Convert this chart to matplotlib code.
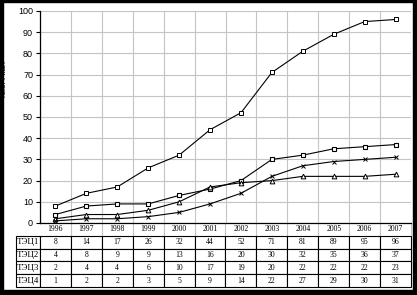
import matplotlib
matplotlib.use('Agg')
import matplotlib.pyplot as plt
from matplotlib.patches import Rectangle
import numpy as np

# данные по годам
years = ['1996', '1997', '1998', '1999', '2000', '2001', '2002', '2003', '2004', '2005', '2006', '2007']
names = ['ТЭЦ1', 'ТЭЦ2', 'ТЭЦ3', 'ТЭЦ4']
t1 = [8, 14, 17, 26, 32, 44, 52, 71, 81, 89, 95, 96]
t2 = [4, 8, 9, 9, 13, 16, 20, 30, 32, 35, 36, 37]
t3 = [2, 4, 4, 6, 10, 17, 19, 20, 22, 22, 22, 23]
t4 = [1, 2, 2, 3, 5, 9, 14, 22, 27, 29, 30, 31]
ylabel = 'тыс. Гкал'

W, H = 417, 295
fig = plt.figure(figsize=(W / 100, H / 100), dpi=100)
ax = fig.add_axes([40 / W, 1 - 223 / H, 371 / W, 212 / H])

x = np.arange(len(years))
ax.plot(x, t1, color='black', lw=0.8, marker='s', ms=2.8, mfc='white', mec='black', mew=0.7)
ax.plot(x, t2, color='black', lw=0.8, marker='s', ms=3.4, mfc='white', mec='black', mew=0.8)
ax.plot(x, t3, color='black', lw=0.8, marker='^', ms=3.4, mfc='white', mec='black', mew=0.7)
ax.plot(x, t4, color='black', lw=0.8, marker='x', ms=3.2, mec='black', mew=0.7)

ax.set_xlim(-0.5, len(years) - 0.5)
ax.set_ylim(0, 100)
ax.set_yticks(range(0, 101, 10))
ax.set_xticks([])
ax.set_xticks(np.arange(-0.5, len(years), 1), minor=True)
ax.tick_params(axis='x', which='both', length=0, labelbottom=False)
ax.tick_params(axis='y', length=3, width=0.8, labelsize=6.5, pad=2)
for lab in ax.get_yticklabels():
    lab.set_fontfamily('Liberation Sans')
ax.grid(axis='y', color='#c4c4c4', lw=0.8)
ax.grid(axis='x', which='minor', color='#c4c4c4', lw=0.8)
ax.set_axisbelow(True)
ax.spines['top'].set_visible(False)
ax.spines['right'].set_visible(False)
ax.spines['left'].set_linewidth(0.9)
ax.spines['bottom'].set_linewidth(0.9)

# таблица данных под графиком
cells = [[n] + [str(v) for v in row] for n, row in zip(names, (t1, t2, t3, t4))]
lw_col = 24 / 371
tbl = ax.table(cellText=cells, colLabels=[''] + years,
               colWidths=[lw_col] + [1 / 12] * 12,
               cellLoc='center',
               bbox=[-lw_col, -64 / 212, 1 + lw_col, 64 / 212])
tbl.auto_set_font_size(False)
for (r, c), cell in tbl.get_celld().items():
    cell.set_linewidth(0.8)
    cell.set_edgecolor('black')
    cell.get_text().set_fontfamily('Liberation Serif')
    cell.get_text().set_fontsize(5.5 if c > 0 else 6.5)
    if c == 0:
        cell._loc = 'left'
        cell.PAD = 0.03
    if r == 0:
        cell.set_facecolor('none')
        if c == 0:
            cell.visible_edges = 'open'
        else:
            cell.visible_edges = 'R'
            cell.set_edgecolor('#c4c4c4')

# рамка вокруг рисунка
for rect in [(0, 0, 3 / W, 1), (0, 1 - 2 / H, 1, 2 / H), (1 - 4 / W, 0, 4 / W, 1), (0, 0, 1, 5 / H)]:
    fig.add_artist(Rectangle(rect[:2], rect[2], rect[3], transform=fig.transFigure,
                             color='black', zorder=20))

fig.text(5 / W, 1 - 80 / H, ylabel, rotation=90, fontsize=6, ha='center', va='center',
         family='Liberation Sans')

fig.savefig('out.png', dpi=100)
